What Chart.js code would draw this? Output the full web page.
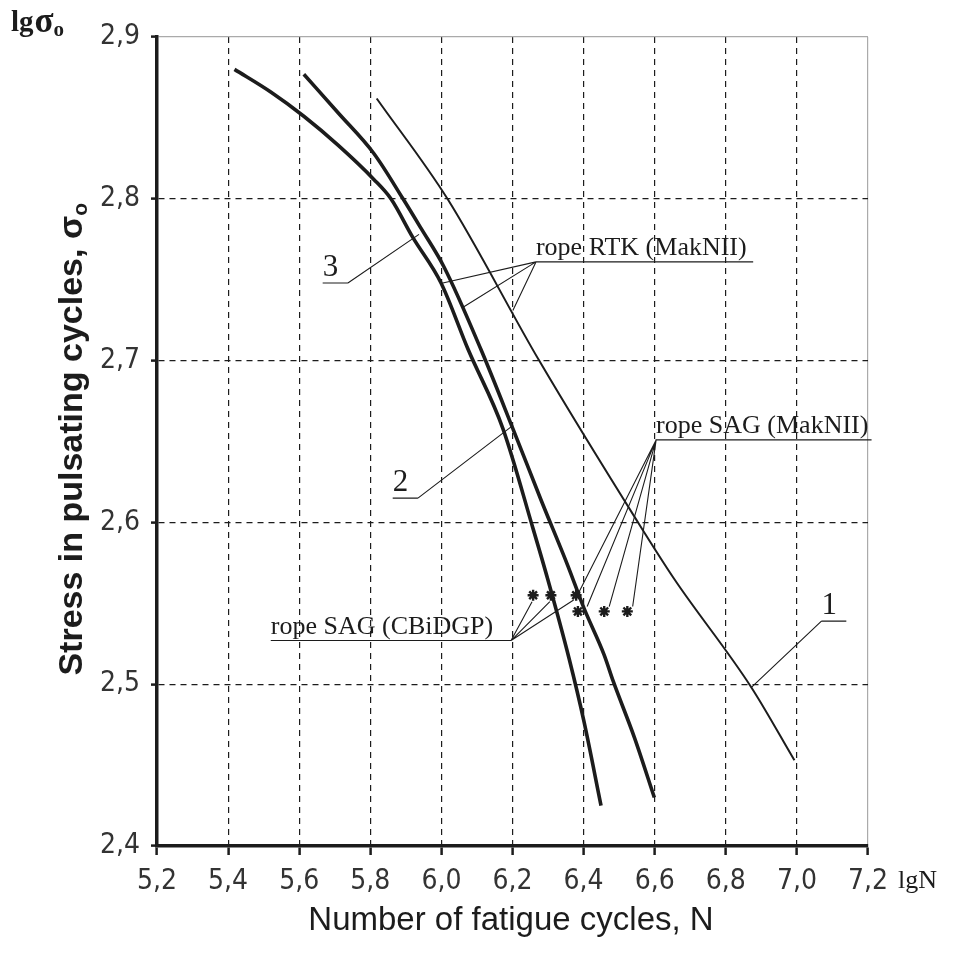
<!DOCTYPE html>
<html>
<head>
<meta charset="utf-8">
<script src="https://cdn.jsdelivr.net/npm/chart.js@4.4.1/dist/chart.umd.min.js"></script>
<style>
  html, body { margin: 0; padding: 0; background: #fff; }
  #wrap { width: 965px; height: 954px; }
</style>
</head>
<body>
<div id="wrap"><canvas id="fatigueChart" width="965" height="954"></canvas></div>
<script>
// tick values (lgN and lg sigma)
const xTicks = [5.2, 5.4, 5.6, 5.8, 6.0, 6.2, 6.4, 6.6, 6.8, 7.0, 7.2];
const yTicks = [2.4, 2.5, 2.6, 2.7, 2.8, 2.9];

// curve 1 (thin)
const curve1N = [5.818, 6.017, 6.275, 6.553, 6.655, 6.872, 6.993];
const curve1S = [2.862, 2.800, 2.700, 2.600, 2.565, 2.498, 2.453];

// curve 2 (thick, starts at 5.61)
const curve2N = [5.613, 5.71, 5.81, 5.892, 5.942, 6.007, 6.111, 6.201, 6.280, 6.356, 6.401, 6.458, 6.483, 6.543, 6.599];
const curve2S = [2.877, 2.853, 2.828, 2.800, 2.782, 2.758, 2.707, 2.658, 2.614, 2.573, 2.547, 2.518, 2.502, 2.467, 2.430];

// curve 3 (thick, starts at 5.42)
const curve3N = [5.418, 5.52, 5.613, 5.71, 5.81, 5.858, 5.92, 5.999, 6.075, 6.173, 6.258, 6.299, 6.359, 6.401, 6.449];
const curve3S = [2.880, 2.866, 2.851, 2.833, 2.812, 2.800, 2.776, 2.748, 2.707, 2.658, 2.596, 2.565, 2.516, 2.477, 2.425];

// test points
const sagCbiN = [6.258, 6.308, 6.379];
const sagCbiS = [2.555, 2.555, 2.555];
const sagMakN = [6.384, 6.458, 6.523];
const sagMakS = [2.545, 2.545, 2.545];

const toXY = (xs, ys) => xs.map((v, i) => ({ x: v, y: ys[i] }));
const comma = v => v.toFixed(1).replace('.', ',');
const INK = '#1c1c1c';

// callouts: underline span, its level, where the leaders start, what they point at
const serif = '"Liberation Serif", "Times New Roman", serif';
const leaderNotes = [
  { text: 'rope RTK (MakNII)', size: 26, line: [6.266, 6.877], at: 2.761, root: 6.266,
    targets: [[6.004, 2.748], [6.061, 2.733], [6.201, 2.731]] },
  { text: 'rope SAG (MakNII)', size: 26, line: [6.604, 7.21], at: 2.651, root: 6.604,
    targets: [[6.385, 2.556], [6.41, 2.548], [6.472, 2.548], [6.538, 2.548]] },
  { text: 'rope SAG (CBiDGP)', size: 26, line: [5.52, 6.196], at: 2.527, root: 6.196,
    targets: [[6.255, 2.551], [6.305, 2.551], [6.372, 2.552]] },
  { text: '3', size: 31, line: [5.666, 5.737], at: 2.748, root: 5.737, targets: [[5.937, 2.778]] },
  { text: '2', size: 31, line: [5.863, 5.934], at: 2.615, root: 5.934, targets: [[6.196, 2.659]] },
  { text: '1', size: 31, line: [7.069, 7.139], at: 2.539, root: 7.069, targets: [[6.872, 2.498]] }
];

const callouts = {
  id: 'callouts',
  afterDraw(chart) {
    const { ctx, scales: { x, y } } = chart;
    const px = v => x.getPixelForValue(v);
    const py = v => y.getPixelForValue(v);
    ctx.save();
    ctx.strokeStyle = INK;
    ctx.fillStyle = INK;
    ctx.lineWidth = 1.1;
    ctx.setLineDash([]);
    leaderNotes.forEach(n => {
      const ly = py(n.at);
      ctx.beginPath();
      ctx.moveTo(px(n.line[0]), ly);
      ctx.lineTo(px(n.line[1]), ly);
      n.targets.forEach(t => {
        ctx.moveTo(px(n.root), ly);
        ctx.lineTo(px(t[0]), py(t[1]));
      });
      ctx.stroke();
      ctx.font = n.size + 'px ' + serif;
      ctx.textAlign = 'left';
      ctx.textBaseline = 'alphabetic';
      ctx.fillText(n.text, px(n.line[0]), ly - 7);
    });

    // top-left axis name: lg sigma_o
    let cx = 11;
    ctx.font = 'bold 29px ' + serif;
    ctx.fillText('lg', cx, 31);
    cx += ctx.measureText('lg').width + 1;
    ctx.font = 'bold 35px ' + serif;
    ctx.fillText('σ', cx, 32);
    cx += ctx.measureText('σ').width;
    ctx.font = 'bold 21px ' + serif;
    ctx.fillText('o', cx, 36);

    // bottom-right axis name
    ctx.font = '26px ' + serif;
    ctx.fillText('lgN', 898, 888);

    // x title
    ctx.font = '33px "Liberation Sans", Arial, sans-serif';
    ctx.textAlign = 'center';
    ctx.fillText('Number of fatigue cycles, N', 511, 930);

    // y title (rotated) with subscript
    ctx.translate(82, 203);
    ctx.rotate(-Math.PI / 2);
    ctx.textAlign = 'right';
    ctx.font = 'bold 21px "Liberation Sans", Arial, sans-serif';
    const subW = ctx.measureText('o').width;
    ctx.fillText('o', 0, 5);
    ctx.font = 'bold 34px "Liberation Sans", Arial, sans-serif';
    ctx.fillText('Stress in pulsating cycles, σ', -subW, 0);
    ctx.restore();
  }
};

const tickFont = { family: '"Liberation Sans Narrow", "DejaVu Sans Condensed", "Liberation Sans", Arial, sans-serif', size: 28 };

new Chart(document.getElementById('fatigueChart'), {
  type: 'scatter',
  data: {
    datasets: [
      { label: '1', data: toXY(curve1N, curve1S), showLine: true, borderColor: INK, borderWidth: 2, pointRadius: 0, cubicInterpolationMode: 'monotone' },
      { label: '2', data: toXY(curve2N, curve2S), showLine: true, borderColor: INK, borderWidth: 3.6, pointRadius: 0, cubicInterpolationMode: 'monotone' },
      { label: '3', data: toXY(curve3N, curve3S), showLine: true, borderColor: INK, borderWidth: 3.6, pointRadius: 0, cubicInterpolationMode: 'monotone' },
      { label: 'rope SAG (CBiDGP)', data: toXY(sagCbiN, sagCbiS), pointStyle: 'star', pointRadius: 5.5, borderWidth: 2.4, borderColor: INK, backgroundColor: INK },
      { label: 'rope SAG (MakNII)', data: toXY(sagMakN, sagMakS), pointStyle: 'star', pointRadius: 5.5, borderWidth: 2.4, borderColor: INK, backgroundColor: INK }
    ]
  },
  options: {
    responsive: false,
    animation: false,
    layout: { padding: { left: 0, top: 37, right: 97, bottom: 0 } },
    plugins: { legend: { display: false }, tooltip: { enabled: false } },
    scales: {
      x: {
        type: 'linear', min: 5.2, max: 7.2,
        afterBuildTicks: s => { s.ticks = xTicks.map(v => ({ value: v })); },
        afterFit: s => { s.height = 108; },
        ticks: { callback: v => comma(v), font: tickFont, color: '#333', padding: 10, maxRotation: 0 },
        grid: {
          color: c => c.tick && c.tick.value >= 7.2 ? '#aaa' : (c.tick && c.tick.value <= 5.2 ? 'rgba(0,0,0,0)' : INK),
          lineWidth: 1.2, tickLength: 9, tickColor: INK, tickWidth: 2.5
        },
        border: {
          color: INK, width: 3.5,
          dash: c => (c.type === 'tick' && c.tick.value > 5.2 && c.tick.value < 7.2) ? [6, 5] : []
        }
      },
      y: {
        type: 'linear', min: 2.4, max: 2.9,
        afterBuildTicks: s => { s.ticks = yTicks.map(v => ({ value: v })); },
        afterFit: s => { s.width = 157; },
        ticks: { callback: v => comma(v), font: tickFont, color: '#333', padding: 11 },
        grid: {
          color: c => c.tick && c.tick.value >= 2.9 ? '#aaa' : (c.tick && c.tick.value <= 2.4 ? 'rgba(0,0,0,0)' : INK),
          lineWidth: 1.2, tickLength: 6, tickColor: INK, tickWidth: 2.5
        },
        border: {
          color: INK, width: 3.5,
          dash: c => (c.type === 'tick' && c.tick.value > 2.4 && c.tick.value < 2.9) ? [6, 5] : []
        }
      }
    }
  },
  plugins: [callouts]
});
</script>
</body>
</html>
